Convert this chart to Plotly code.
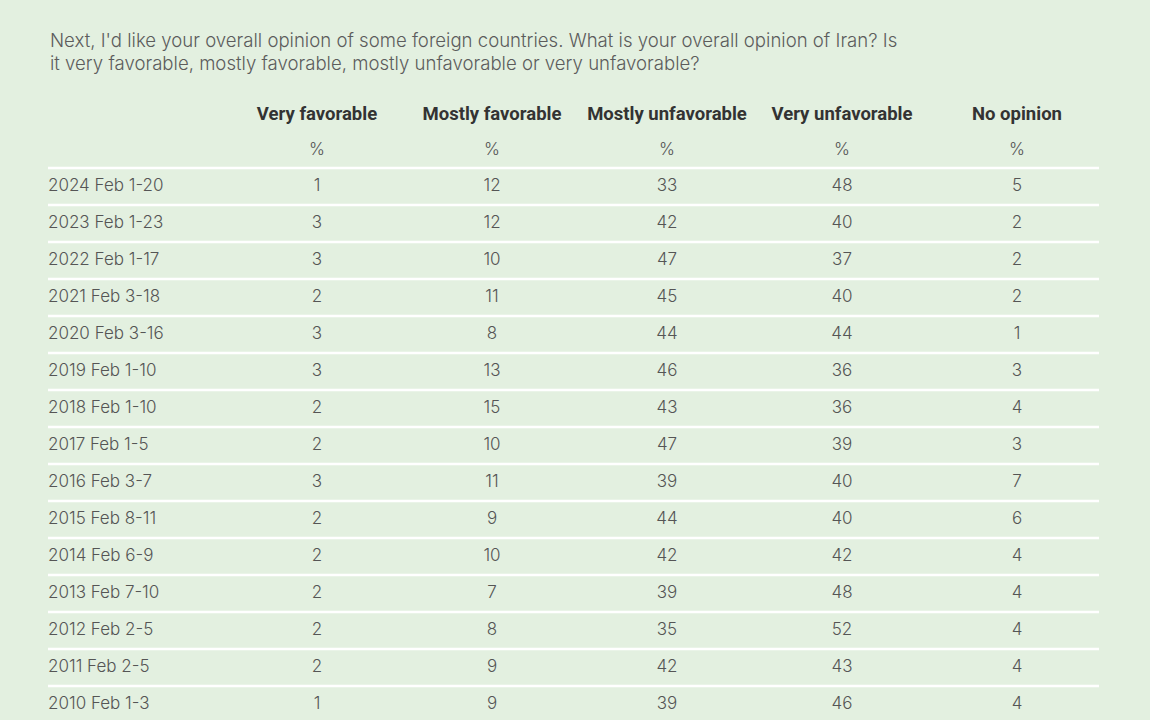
"""Gallup-style opinion table: Iran favorability, rebuilt with Plotly text traces."""
import plotly.graph_objects as go

BG = "#e3f0e0"
TEXT = "#555555"
HEAD = "#333333"
LINE = "#ffffff"
FONT = "Inter, Roboto, Arial, sans-serif"

QUESTION = [
    "Next, I'd like your overall opinion of some foreign countries. What is your overall opinion of Iran? Is",
    "it very favorable, mostly favorable, mostly unfavorable or very unfavorable?",
]
COLUMNS = ["Very favorable", "Mostly favorable", "Mostly unfavorable", "Very unfavorable", "No opinion"]
DATES = [
    "2024 Feb 1-20", "2023 Feb 1-23", "2022 Feb 1-17", "2021 Feb 3-18", "2020 Feb 3-16",
    "2019 Feb 1-10", "2018 Feb 1-10", "2017 Feb 1-5", "2016 Feb 3-7", "2015 Feb 8-11",
    "2014 Feb 6-9", "2013 Feb 7-10", "2012 Feb 2-5", "2011 Feb 2-5", "2010 Feb 1-3",
]
very_fav = [1, 3, 3, 2, 3, 3, 2, 2, 3, 2, 2, 2, 2, 2, 1]
mostly_fav = [12, 12, 10, 11, 8, 13, 15, 10, 11, 9, 10, 7, 8, 9, 9]
mostly_unfav = [33, 42, 47, 45, 44, 46, 43, 47, 39, 44, 42, 39, 35, 42, 39]
very_unfav = [48, 40, 37, 40, 44, 36, 36, 39, 40, 40, 42, 48, 52, 43, 46]
no_opinion = [5, 2, 2, 2, 1, 3, 4, 3, 7, 6, 4, 4, 4, 4, 4]

SERIES = [very_fav, mostly_fav, mostly_unfav, very_unfav, no_opinion]

# x in pixels, rows in index units (row pitch 37px)
COL_X = [317, 492, 667, 842, 1017]
DATE_X = 48
LINE_X1 = 1099
ROW_PX, ROW0_PX = 37, 186.5
rows = list(range(len(DATES)))


def px_to_row(px):
    return (px - ROW0_PX) / ROW_PX


fig = go.Figure()

# date column
fig.add_trace(go.Scatter(
    x=[DATE_X] * len(DATES), y=rows, text=DATES, mode="text",
    textposition="middle right",
    textfont=dict(family=FONT, size=17, color=TEXT, weight=300),
    hoverinfo="skip", showlegend=False, cliponaxis=False,
))

# value columns, headers, % sub-headers
for cx, name, vals in zip(COL_X, COLUMNS, SERIES):
    fig.add_trace(go.Scatter(
        x=[cx] * len(vals), y=rows, text=[str(v) for v in vals], mode="text",
        textposition="middle center",
        textfont=dict(family=FONT, size=17, color=TEXT, weight=300),
        hoverinfo="skip", showlegend=False, cliponaxis=False,
    ))
    fig.add_trace(go.Scatter(
        x=[cx], y=[-1.92], text=[name], mode="text", textposition="middle center",
        textfont=dict(family="Roboto, Arial, sans-serif", size=18.5, color=HEAD, weight=700),
        hoverinfo="skip", showlegend=False, cliponaxis=False,
    ))
    fig.add_trace(go.Scatter(
        x=[cx], y=[-0.97], text=["%"], mode="text", textposition="middle center",
        textfont=dict(family=FONT, size=17, color=TEXT, weight=300),
        hoverinfo="skip", showlegend=False, cliponaxis=False,
    ))

# white separators above each row
for r in rows:
    fig.add_shape(type="line", xref="x", yref="y", x0=DATE_X, x1=LINE_X1,
                  y0=r - 0.5, y1=r - 0.5, line=dict(color=LINE, width=2.5))

for i, line in enumerate(QUESTION):
    fig.add_annotation(
        text=line, xref="x", yref="y", x=DATE_X, y=px_to_row(40 + 23 * i),
        xanchor="left", yanchor="middle", showarrow=False,
        font=dict(family=FONT, size=18.6, color="#5c5c5c", weight=300),
    )

fig.update_layout(
    width=1150, height=720,
    margin=dict(l=0, r=0, t=0, b=0),
    paper_bgcolor=BG, plot_bgcolor=BG,
    xaxis=dict(range=[0, 1150], visible=False, fixedrange=True),
    yaxis=dict(range=[px_to_row(720), px_to_row(0)], visible=False, fixedrange=True),
)

fig.write_html(
    "out.html", config=dict(displayModeBar=False),
    post_script="document.body.style.margin='0';document.body.style.background='" + BG + "';",
)
